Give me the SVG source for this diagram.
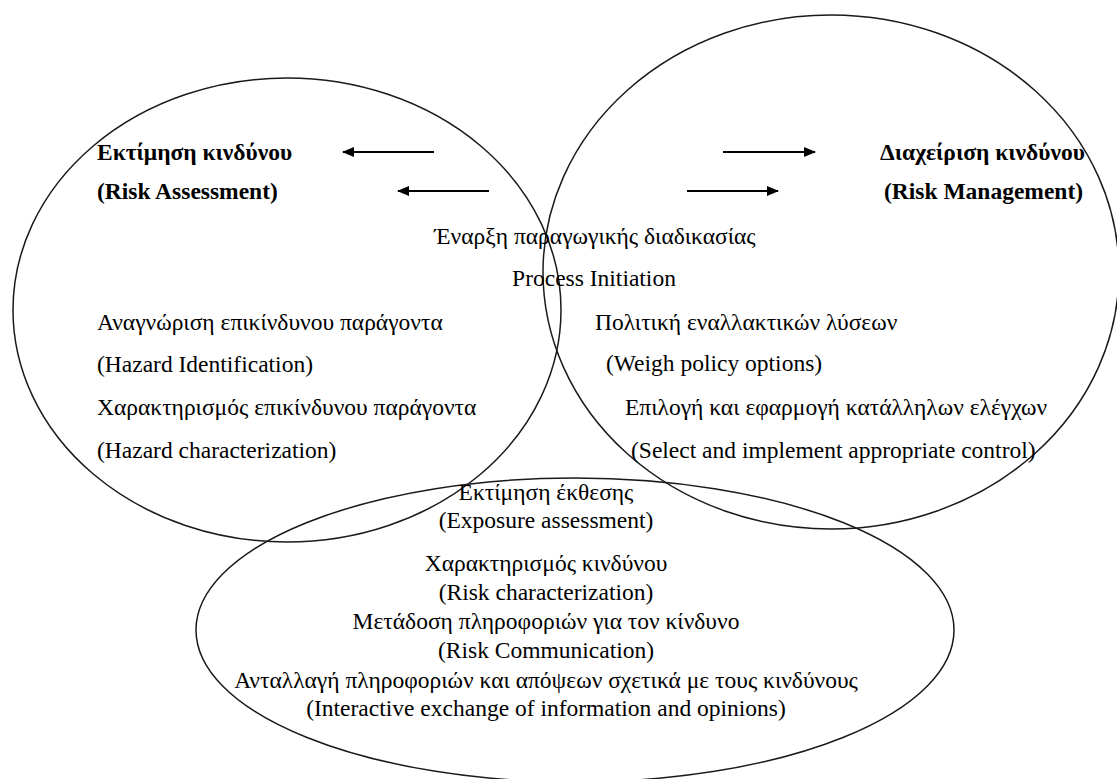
<svg xmlns="http://www.w3.org/2000/svg" width="1117" height="779" viewBox="0 0 1117 779">
<style>
  .shape { fill: none; stroke: #1a1a1a; stroke-width: 1.5; }
  .t { font-family: "Liberation Serif", "Times New Roman", serif; font-size: 23.5px; fill: #000; }
  .b { font-weight: bold; }
  .c { text-anchor: middle; }
  .arrow { stroke: #000; stroke-width: 2; fill: none; marker-end: url(#head); }
</style>
<defs>
  <marker id="head" viewBox="0 0 12 10" refX="11" refY="5" markerWidth="12" markerHeight="10" markerUnits="userSpaceOnUse" orient="auto">
    <path d="M0,0 L12,5 L0,10 Z" fill="#000"/>
  </marker>
</defs>
<rect width="1117" height="779" fill="#fff"/>

<g id="risk-assessment">
  <ellipse class="shape" cx="287" cy="310" rx="274" ry="232"/>
  <text class="t b" x="97" y="160">Εκτίμηση κινδύνου</text>
  <text class="t b" x="97" y="199">(Risk Assessment)</text>
  <text class="t" x="97" y="330">Αναγνώριση επικίνδυνου παράγοντα</text>
  <text class="t" x="97" y="372">(Hazard Identification)</text>
  <text class="t" x="97" y="415">Χαρακτηρισμός επικίνδυνου παράγοντα</text>
  <text class="t" x="97" y="458">(Hazard characterization)</text>
</g>

<g id="risk-management">
  <ellipse class="shape" cx="831" cy="272" rx="288" ry="257"/>
  <text class="t b" x="880" y="160">Διαχείριση κινδύνου</text>
  <text class="t b" x="884" y="199">(Risk Management)</text>
  <text class="t" x="595" y="330">Πολιτική εναλλακτικών λύσεων</text>
  <text class="t" x="606" y="371">(Weigh policy options)</text>
  <text class="t" x="625" y="415">Επιλογή και εφαρμογή κατάλληλων ελέγχων</text>
  <text class="t" x="631" y="458">(Select and implement appropriate control)</text>
</g>

<g id="process-initiation">
  <text class="t c" x="595" y="244">Έναρξη παραγωγικής διαδικασίας</text>
  <text class="t c" x="594" y="286">Process Initiation</text>
</g>

<g id="risk-communication">
  <ellipse class="shape" cx="575" cy="630" rx="379" ry="152"/>
  <text class="t c" x="546" y="500">Εκτίμηση έκθεσης</text>
  <text class="t c" x="546" y="528">(Exposure assessment)</text>
  <text class="t c" x="546" y="571">Χαρακτηρισμός κινδύνου</text>
  <text class="t c" x="546" y="600">(Risk characterization)</text>
  <text class="t c" x="546" y="629">Μετάδοση πληροφοριών για τον κίνδυνο</text>
  <text class="t c" x="546" y="658">(Risk Communication)</text>
  <text class="t c" x="546" y="688">Ανταλλαγή πληροφοριών και απόψεων σχετικά με τους κινδύνους</text>
  <text class="t c" x="546" y="716">(Interactive exchange of information and opinions)</text>
</g>

<g id="connectors">
  <line class="arrow" x1="434" y1="152" x2="343" y2="152"/>
  <line class="arrow" x1="489" y1="191" x2="398" y2="191"/>
  <line class="arrow" x1="723" y1="152" x2="815" y2="152"/>
  <line class="arrow" x1="687" y1="191" x2="778" y2="191"/>
</g>
</svg>
